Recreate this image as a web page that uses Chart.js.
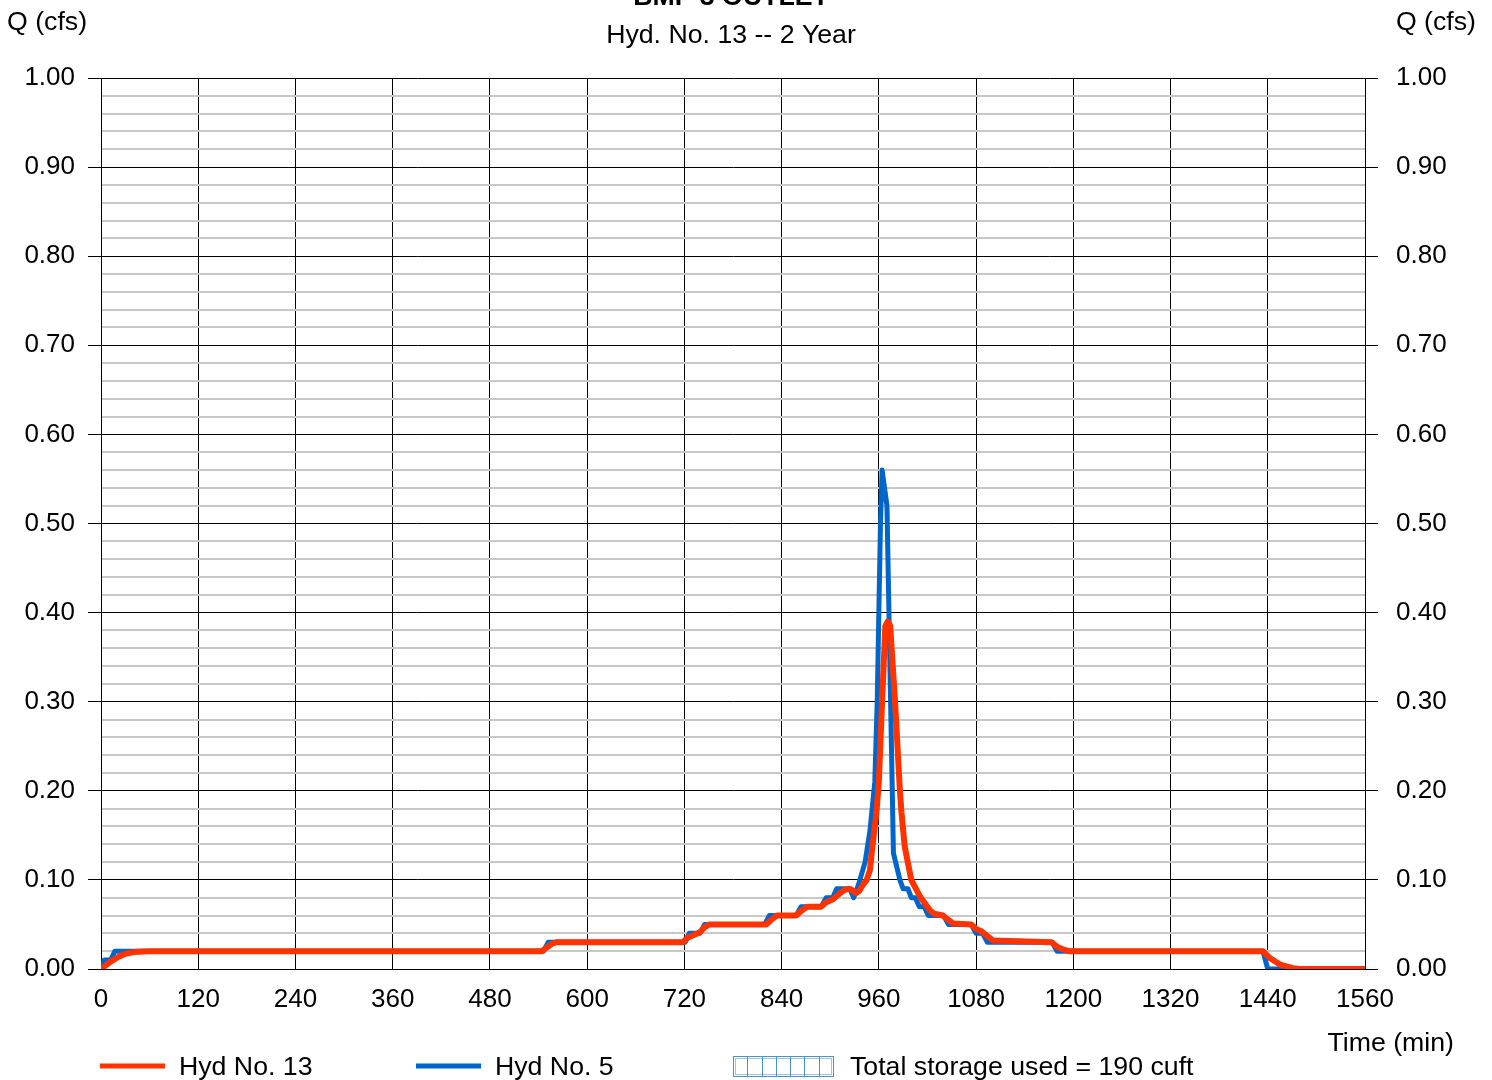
<!DOCTYPE html>
<html><head><meta charset="utf-8">
<script src="https://cdn.jsdelivr.net/npm/chart.js@4.4.1/dist/chart.umd.min.js"></script>
<style>html,body{margin:0;padding:0;background:#fff;}canvas{display:block;}</style>
</head><body>
<canvas id="c" width="1492" height="1080"></canvas>
<script>
const titleTop = "BMP 3 OUTLET";
const titleMain = "Hyd. No. 13 -- 2 Year";
const yAxisLabel = "Q (cfs)";
const xAxisLabel = "Time (min)";
const seriesNames = ["Hyd No. 13", "Hyd No. 5"];
const storageLabel = "Total storage used = 190 cuft";

// Hyd No. 13 (outflow, red)
const hyd13Time = [0,10,20,30,40,60,544,550,556,562,718,724,731,739,745,751,821,827,834,858,864,872,
  889,895,903,912,918,924,928,932,936,940,945,949,952,957,960,964,968,971,974,980,986,988,992,
  1000,1011,1023,1028,1039,1046,1052,1074,1080,1087,1094,1101,1173,1180,1187,1195,1434,1443,1455,1471,1480,1560];
const hyd13Flow = [0,0.007,0.013,0.017,0.019,0.02,0.02,0.024,0.028,0.03,0.03,0.035,0.038,0.041,0.047,0.05,0.05,0.055,0.06,0.06,0.065,0.07,
  0.07,0.075,0.078,0.085,0.089,0.09,0.088,0.085,0.088,0.094,0.10,0.111,0.137,0.175,0.21,0.30,0.385,0.39,0.385,0.30,0.20,0.175,0.137,
  0.10,0.081,0.066,0.062,0.06,0.055,0.051,0.05,0.045,0.042,0.037,0.032,0.03,0.025,0.022,0.02,0.02,0.012,0.005,0.001,0,0];

// Hyd No. 5 (inflow, blue)
const hyd5Time = [0,4,12,17,546,552,721,726,739,745,819,825,858,864,889,895,903,908,924,929,935,943,949,955,958,960,962,964,
  970,978,986,990,996,1000,1005,1010,1016,1021,1040,1046,1074,1080,1088,1094,1174,1180,1434,1440,1560];
const hyd5Flow = [0,0.01,0.01,0.02,0.02,0.03,0.03,0.04,0.04,0.05,0.05,0.06,0.06,0.07,0.07,0.08,0.08,0.09,0.09,0.08,0.095,0.12,0.155,0.21,0.30,0.40,0.50,0.56,
  0.52,0.13,0.10,0.09,0.09,0.08,0.08,0.07,0.07,0.06,0.06,0.05,0.05,0.04,0.04,0.03,0.03,0.02,0.02,0,0];

const xMin = 0, xMax = 1560, xStep = 120;
const yMin = 0, yMax = 1, yStep = 0.02;

const RED = '#ff3300', BLUE = '#0066cc';
const FONT = "'Liberation Sans', Arial, sans-serif";
const TXT = '26.7px ';

function pts(t, v) { return t.map((x, i) => ({x: x, y: v[i]})); }
function isMajor(v) { return Math.round(v * 100) % 10 === 0; }

Chart.defaults.font.family = FONT;
Chart.defaults.font.size = 26;
Chart.defaults.color = '#000';

const textPlugin = {
  id: 'texts',
  afterDraw(chart) {
    const ctx = chart.ctx;
    ctx.save();
    ctx.fillStyle = '#000';
    ctx.textBaseline = 'alphabetic';
    ctx.font = 'bold ' + TXT + FONT;
    ctx.textAlign = 'center';
    ctx.fillText(titleTop, 731, 5);
    ctx.font = TXT + FONT;
    ctx.fillText(titleMain, 731, 43);
    ctx.textAlign = 'left';
    ctx.fillText(yAxisLabel, 7, 30);
    ctx.textAlign = 'right';
    ctx.fillText(yAxisLabel, 1476, 30);
    ctx.fillText(xAxisLabel, 1454, 1051);
    // legend
    ctx.textAlign = 'left';
    ctx.lineWidth = 5;
    ctx.strokeStyle = RED;
    ctx.beginPath(); ctx.moveTo(100, 1066); ctx.lineTo(165, 1066); ctx.stroke();
    ctx.fillText(seriesNames[0], 179, 1075);
    ctx.strokeStyle = BLUE;
    ctx.beginPath(); ctx.moveTo(416, 1066); ctx.lineTo(481, 1066); ctx.stroke();
    ctx.fillText(seriesNames[1], 495, 1075);
    ctx.lineWidth = 1;
    ctx.strokeStyle = '#4a90d9';
    ctx.strokeRect(733.5, 1056.5, 100, 20);
    ctx.strokeStyle = '#9cc4ec';
    ctx.strokeRect(735.5, 1058.5, 96, 16);
    ctx.strokeStyle = '#4a90d9';
    ctx.beginPath();
    for (let i = 1; i < 7; i++) {
      const x = Math.round(733 + i * 100 / 7) + 0.5;
      ctx.moveTo(x, 1057); ctx.lineTo(x, 1076);
    }
    ctx.stroke();
    ctx.fillText(storageLabel, 850, 1075);
    ctx.restore();
  }
};

const yTickCommon = {
  min: yMin, max: yMax, z: -1,
  ticks: {
    stepSize: yStep, autoSkip: false, maxTicksLimit: 500,
    callback: (v) => isMajor(v) ? v.toFixed(2) : '',
    font: {size: 26}, color: '#000'
  }
};

new Chart(document.getElementById('c'), {
  type: 'line',
  data: {
    datasets: [
      {label: seriesNames[0], data: pts(hyd13Time, hyd13Flow), borderColor: RED, borderWidth: 6,
       pointRadius: 0, tension: 0, fill: false, borderJoinStyle: 'round', borderCapStyle: 'round'},
      {label: seriesNames[1], data: pts(hyd5Time, hyd5Flow), borderColor: BLUE, borderWidth: 5,
       pointRadius: 0, tension: 0, fill: false, borderJoinStyle: 'round', borderCapStyle: 'round'}
    ]
  },
  options: {
    responsive: false, animation: false, devicePixelRatio: 1,
    layout: {padding: {top: 78, left: 0, right: 0, bottom: 0}},
    plugins: {legend: {display: false}, title: {display: false}, tooltip: {enabled: false}},
    scales: {
      x: {
        type: 'linear', min: xMin, max: xMax,
        ticks: {stepSize: xStep, autoSkip: false, maxRotation: 0, padding: 15, font: {size: 26}, color: '#000',
                callback: (v) => String(v)},
        grid: {color: '#000', lineWidth: 1, drawTicks: false},
        border: {color: '#000', width: 1},
        afterFit: (s) => { s.height = 111; }
      },
      y: Object.assign({}, yTickCommon, {
        position: 'left',
        ticks: Object.assign({}, yTickCommon.ticks, {padding: 13}),
        grid: {
          color: (c) => isMajor(c.tick.value) ? '#000' : '#c8c8c8',
          lineWidth: (c) => isMajor(c.tick.value) ? 1 : 2,
          tickColor: (c) => isMajor(c.tick.value) ? '#000' : 'rgba(0,0,0,0)',
          tickLength: 13, tickWidth: 1
        },
        border: {color: '#000', width: 1},
        afterFit: (s) => { s.width = 101; }
      }),
      y2: Object.assign({}, yTickCommon, {
        position: 'right',
        ticks: Object.assign({}, yTickCommon.ticks, {padding: 18}),
        grid: {
          drawOnChartArea: false,
          tickColor: (c) => isMajor(c.tick.value) ? '#000' : 'rgba(0,0,0,0)',
          tickLength: 13, tickWidth: 1
        },
        border: {color: '#000', width: 1},
        afterFit: (s) => { s.width = 127; }
      })
    }
  },
  plugins: [textPlugin]
});
</script>
</body></html>
